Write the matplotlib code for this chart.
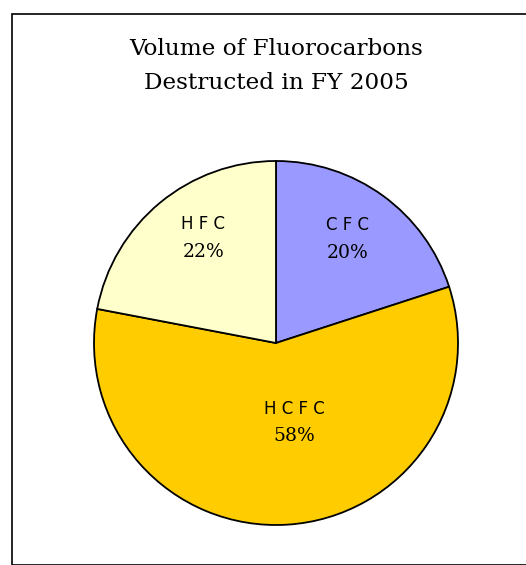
import matplotlib
matplotlib.use("Agg")
import matplotlib.pyplot as plt
from matplotlib.patches import Rectangle
from matplotlib import font_manager
import numpy as np

categories = ["CFC", "HCFC", "HFC"]
label_text = ["C F C", "H C F C", "H F C"]
values = [20, 58, 22]
colors = ["#9999FF", "#FFCC00", "#FFFFCC"]

names = {f.name for f in font_manager.fontManager.ttflist}
narrow = "Liberation Sans Narrow" if "Liberation Sans Narrow" in names else "DejaVu Sans"
lab_size = 14 if narrow == "Liberation Sans Narrow" else 12

W, H = 526, 565
fig = plt.figure(figsize=(W/100, H/100), dpi=100)
fig.patch.set_facecolor("white")

# border
fig.patches.append(Rectangle((12/W, 0), 1.2, (H-14)/H, transform=fig.transFigure,
                             fill=False, edgecolor="black", lw=1.2))

fig.text(276/W, 1-49/H, "Volume of Fluorocarbons", ha="center", va="center",
         fontsize=16.7, family="DejaVu Serif")
fig.text(276/W, 1-83/H, "Destructed in FY 2005", ha="center", va="center",
         fontsize=16.7, family="DejaVu Serif")

ax = fig.add_axes([94/W, 40/H, 364/W, 364/H])
wedges, _ = ax.pie(values, colors=colors, startangle=90, counterclock=False,
                   radius=1, wedgeprops=dict(edgecolor="black", linewidth=1.3))
for w in wedges:
    w.set_clip_on(False)
ax.set_xlim(-1, 1)
ax.set_ylim(-1, 1)
ax.set_aspect("equal")
ax.axis("off")

# label positions (fraction of radius, angle in deg)
label_pos = {"CFC": (0.69, 55.4), "HCFC": (0.45, -77), "HFC": (0.70, 124.8)}
for cat, lt, v in zip(categories, label_text, values):
    r, a = label_pos[cat]
    x, y = r*np.cos(np.radians(a)), r*np.sin(np.radians(a))
    ax.text(x, y + 0.078, lt, ha="center", va="center", fontsize=lab_size,
            family=narrow)
    ax.text(x, y - 0.075, f"{v}%", ha="center", va="center", fontsize=13.5,
            family="DejaVu Serif")

fig.savefig("out.png", dpi=100)
